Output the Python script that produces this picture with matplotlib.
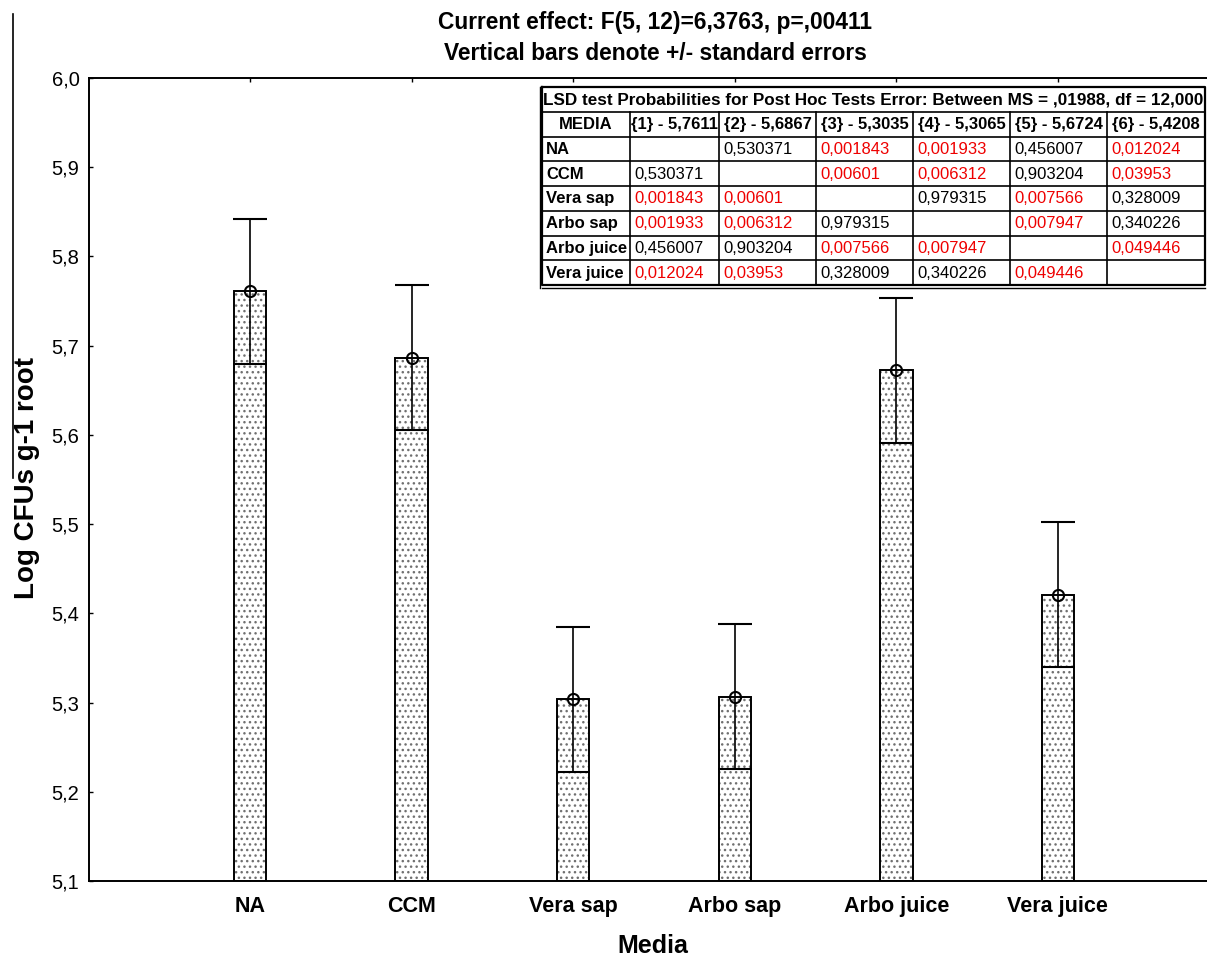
import matplotlib
matplotlib.use("Agg")
import matplotlib.pyplot as plt
from matplotlib.lines import Line2D
from matplotlib.ticker import FuncFormatter

plt.rcParams['font.family'] = ['Liberation Sans', 'DejaVu Sans']
plt.rcParams['hatch.linewidth'] = 1.0

# Datos
media = ["NA", "CCM", "Vera sap", "Arbo sap", "Arbo juice", "Vera juice"]
means = [5.7611, 5.6867, 5.3035, 5.3065, 5.6724, 5.4208]
se = [0.0814, 0.0814, 0.0814, 0.0814, 0.0814, 0.0814]
x_pos = [1, 2, 3, 4, 5, 6]
y_ticks = [5.1, 5.2, 5.3, 5.4, 5.5, 5.6, 5.7, 5.8, 5.9, 6.0]

# Probabilidades LSD (None en la diagonal)
p_na = [None, 0.530371, 0.001843, 0.001933, 0.456007, 0.012024]
p_ccm = [0.530371, None, 0.00601, 0.006312, 0.903204, 0.03953]
p_verasap = [0.001843, 0.00601, None, 0.979315, 0.007566, 0.328009]
p_arbosap = [0.001933, 0.006312, 0.979315, None, 0.007947, 0.340226]
p_arbojuice = [0.456007, 0.903204, 0.007566, 0.007947, None, 0.049446]
p_verajuice = [0.012024, 0.03953, 0.328009, 0.340226, 0.049446, None]
p_rows = [p_na, p_ccm, p_verasap, p_arbosap, p_arbojuice, p_verajuice]

W, H = 1207, 960
fig = plt.figure(figsize=(W / 100, H / 100), dpi=100)

# Ejes principales (el borde derecho queda fuera de la imagen)
ax = fig.add_axes([88.5 / W, 79 / H, 1131 / W, 803 / H])
heights = [m - 5.1 for m in means]
# relleno punteado gris y luego el contorno negro
ax.bar(x_pos, heights, bottom=5.1, width=0.2, color='white',
       edgecolor='#707070', linewidth=0, hatch='...', zorder=2)
ax.bar(x_pos, heights, bottom=5.1, width=0.2, fill=False,
       edgecolor='black', linewidth=1.4, zorder=2.5)
ax.errorbar(x_pos, means, yerr=se, fmt='o', color='black', ecolor='black',
            elinewidth=1.2, capsize=12, capthick=1.4, markersize=8,
            markerfacecolor='none', markeredgewidth=1.5, zorder=3)

ax.set_xlim(0, 7)
ax.set_ylim(5.1, 6.0)
ax.set_yticks(y_ticks)
ax.yaxis.set_major_formatter(FuncFormatter(lambda v, _: f"{v:.1f}".replace('.', ',')))
ax.set_xticks(x_pos)
ax.set_xticklabels(media, fontsize=15.5, fontweight='bold')
ax.tick_params(axis='x', direction='in', top=True, length=3, width=1, pad=11)
ax.tick_params(axis='y', direction='in', right=True, length=3, width=1, pad=6.5, labelsize=14.5)
for sp in ax.spines.values():
    sp.set_linewidth(1.4)

# Titulos y etiquetas
fig.text(655 / W, 1 - 23 / H, "Current effect: F(5, 12)=6,3763, p=,00411",
         ha='center', va='center', fontsize=16.4, fontweight='bold')
fig.text(655 / W, 1 - 54 / H, "Vertical bars denote +/- standard errors",
         ha='center', va='center', fontsize=16.4, fontweight='bold')
fig.text(27 / W, 1 - 478 / H, "Log CFUs g-1 root", rotation=90,
         ha='center', va='center', fontsize=20, fontweight='bold')
fig.text(653 / W, 1 - 946 / H, "Media", ha='center', va='center',
         fontsize=18, fontweight='bold')

# Linea vertical suelta a la izquierda
fig.add_artist(Line2D([13 / W, 13 / W], [1 - 14 / H, 1 - 478 / H],
                      color='black', linewidth=1.2))

# Tabla de probabilidades
col_w = [88, 89, 97, 97, 97, 97, 98]
t_left, t_top, t_bottom = 542, 87, 285
t_width = sum(col_w)
tab = fig.add_axes([t_left / W, 1 - t_bottom / H, t_width / W, (t_bottom - t_top) / H])
tab.set_xlim(0, t_width)
tab.set_ylim(8, 0)
tab.axis('off')
tab.add_patch(plt.Rectangle((0, 0), t_width, 8, facecolor='white', edgecolor='none', zorder=0))

edges = [0]
for w in col_w:
    edges.append(edges[-1] + w)

fs = 12
tab.text(t_width / 2, 0.52,
         "LSD test Probabilities for Post Hoc Tests Error: Between MS = ,01988, df = 12,000",
         ha='center', va='center', fontsize=12.3, fontweight='bold')
headers = ["MEDIA"] + [f"{{{i + 1}}} - {m:.4f}".replace('.', ',') for i, m in enumerate(means)]
for j, h in enumerate(headers):
    tab.text((edges[j] + edges[j + 1]) / 2, 1.52, h, ha='center', va='center',
             fontsize=fs, fontweight='bold', clip_on=False)
for i, name in enumerate(media):
    yc = 2.52 + i
    tab.text(edges[0] + 4, yc, name, ha='left', va='center', fontsize=fs, fontweight='bold')
    for j, p in enumerate(p_rows[i]):
        if p is None:
            continue
        txt = f"{p:.6f}".rstrip('0').replace('.', ',')
        tab.text(edges[j + 1] + 4, yc, txt, ha='left', va='center', fontsize=fs,
                 color='#ee0000' if p < 0.05 else 'black')

# lineas de la tabla
for r in range(1, 8):
    tab.plot([0, t_width], [r, r], color='black', linewidth=1.2, clip_on=False)
for e in edges[1:-1]:
    tab.plot([e, e], [1, 8], color='black', linewidth=1.2, clip_on=False)
tab.plot([0, t_width, t_width, 0, 0], [0, 0, 8, 8, 0], color='black', linewidth=1.6, clip_on=False)
tab.plot([0, t_width], [8.12, 8.12], color='black', linewidth=1.0, clip_on=False)
tab.plot([-2, -2], [0, 8.12], color='black', linewidth=1.0, clip_on=False)

fig.savefig("out.png", dpi=100)
